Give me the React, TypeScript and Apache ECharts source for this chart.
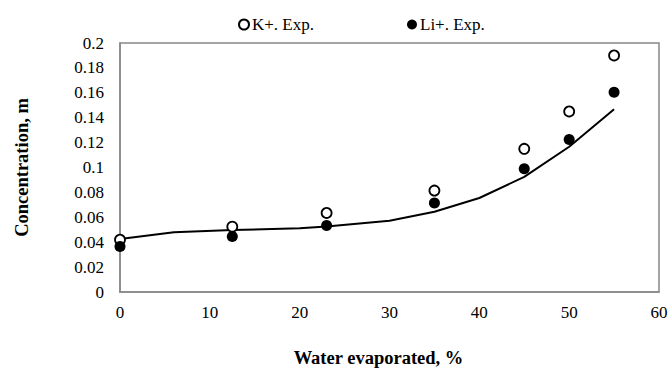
import React, { useEffect, useRef } from "react";
import * as echarts from "echarts";

// Water evaporated (%) at each sampling point
const expX = [0, 12.5, 23, 35, 45, 50, 55];
// Measured K+ concentration (m)
const kExp = [0.042, 0.0525, 0.0635, 0.0815, 0.115, 0.145, 0.19];
// Measured Li+ concentration (m)
const liExp = [0.0365, 0.0445, 0.0535, 0.0715, 0.099, 0.1225, 0.1605];
// Model curve
const modelX = [0, 6, 12.5, 20, 23, 30, 35, 40, 45, 50, 55];
const modelY = [0.0425, 0.048, 0.0498, 0.0512, 0.0527, 0.0572, 0.0645, 0.0755, 0.0925, 0.1167, 0.1468];

const xTicks = { min: 0, max: 60, interval: 10 };
const yTicks = { min: 0, max: 0.2, interval: 0.02 };

const FONT = "'Liberation Serif', 'Times New Roman', serif";

export default function App() {
  const ref = useRef<HTMLDivElement>(null);
  useEffect(() => {
    if (!ref.current) return;
    const chart = echarts.init(ref.current, null, { renderer: "svg" });
    const pair = (xs: number[], ys: number[]) => xs.map((x, i) => [x, ys[i]]);
    chart.setOption({
      animation: false,
      textStyle: { fontFamily: FONT, color: "#000" },
      legend: {
        data: ["K+. Exp.", "Li+. Exp."],
        left: 233,
        top: 11,
        icon: "circle",
        itemWidth: 10,
        itemHeight: 10,
        itemGap: 93,
        textStyle: { fontFamily: FONT, fontSize: 17, color: "#000", padding: [0, 0, 0, -2] },
      },
      grid: { left: 120, right: 12, top: 43, bottom: 77, outerBoundsMode: "none", containLabel: false },
      xAxis: {
        type: "value",
        min: xTicks.min,
        max: xTicks.max,
        interval: xTicks.interval,
        name: "Water evaporated, %",
        nameLocation: "middle",
        nameGap: 56,
        nameTextStyle: {
          fontFamily: FONT,
          fontSize: 18.5,
          fontWeight: "bold",
          color: "#000",
          padding: [0, 22, 0, 0],
        },
        axisLine: { show: true, lineStyle: { color: "#888", width: 1.5 } },
        axisTick: { show: false },
        splitLine: { show: false },
        axisLabel: { fontFamily: FONT, fontSize: 17, color: "#000", margin: 12 },
      },
      yAxis: {
        type: "value",
        min: yTicks.min,
        max: yTicks.max,
        interval: yTicks.interval,
        name: "Concentration, m",
        nameLocation: "middle",
        nameGap: 89,
        nameTextStyle: { fontFamily: FONT, fontSize: 18.5, fontWeight: "bold", color: "#000" },
        axisLine: { show: true, lineStyle: { color: "#888", width: 1.5 } },
        axisTick: { show: false },
        splitLine: { show: false },
        axisLabel: {
          fontFamily: FONT,
          fontSize: 17,
          color: "#000",
          margin: 16,
          formatter: (v: number) => String(Math.round(v * 100) / 100),
        },
      },
      graphic: [
        {
          type: "rect",
          shape: { x: 120, y: 43, width: 539, height: 249 },
          style: { fill: "none", stroke: "#888", lineWidth: 1.5 },
          silent: true,
          z: 0,
        },
      ],
      series: [
        {
          name: "Model",
          type: "line",
          data: pair(modelX, modelY),
          showSymbol: false,
          symbol: "none",
          lineStyle: { color: "#000", width: 2 },
          z: 2,
        },
        {
          name: "K+. Exp.",
          type: "scatter",
          data: pair(expX, kExp),
          symbol: "circle",
          symbolSize: 10,
          itemStyle: { color: "#fff", borderColor: "#000", borderWidth: 1.8, opacity: 1 },
          z: 3,
        },
        {
          name: "Li+. Exp.",
          type: "scatter",
          data: pair(expX, liExp),
          symbol: "circle",
          symbolSize: 11,
          itemStyle: { color: "#000", opacity: 1 },
          z: 4,
        },
      ],
    });
    return () => chart.dispose();
  }, []);
  return <div ref={ref} style={{ width: 671, height: 369, position: "absolute", left: 0, top: 0 }} />;
}
